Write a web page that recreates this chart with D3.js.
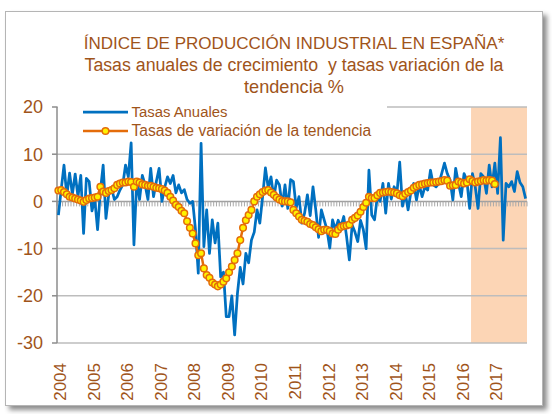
<!DOCTYPE html>
<html><head><meta charset="utf-8">
<script src="https://cdn.jsdelivr.net/npm/d3@7"></script>
<style>
body{margin:0;background:#fff;}
text{font-family:"Liberation Sans",Arial,sans-serif;}
</style>
</head><body>
<svg id="c" width="552" height="414"></svg>
<script>
// ---------------- DATA ----------------
const years = ["2004","2005","2006","2007","2008","2009","2010","2011","2012","2013","2014","2015","2016","2017"];
const yTicks = [20, 10, 0, -10, -20, -30];
const titleLines = ["ÍNDICE DE PRODUCCIÓN INDUSTRIAL EN ESPAÑA*",
                    "Tasas anuales de crecimiento  y tasas variación de la",
                    "tendencia %"];
const legendLabels = ["Tasas Anuales", "Tasas de variación de la tendencia"];
// monthly series, Jan 2004 .. Dec 2017
const tasasAnuales = [
  -2.9, 2.5, 7.7, 1.2, 6.0, 1.5, 5.8, 1.0, 5.5, -6.8, 4.9, 4.2,
  -2.0, 0.5, -6.0, 2.1, 7.7, -3.6, 1.5, 2.8, 0.4, 1.0, 2.4, 3.5,
  7.7, 5.2, 12.4, -9.2, 4.5, 0.4, 5.5, 3.5, 0.4, 7.0, 1.0, 4.2,
  7.0, 0.0, 3.0, 5.2, 3.8, 5.5, 1.8, 3.5, 1.8, 2.5, 0.4, -0.4,
  0.0, -6.0, -15.2, 12.3, -9.6, -1.8, -11.0, -3.9, -8.8, -4.6, -16.0, -15.0,
  -24.4, -24.4, -20.0, -28.3, -19.5, -14.0, -17.5, -11.0, -13.0, -8.2, -6.5, -1.8,
  -4.6, 1.0, 7.1, 2.8, 5.2, 0.7, 4.5, 3.5, -1.0, 3.5, -1.5, 4.6,
  4.2, -1.4, 1.0, -4.6, -2.5, 1.4, -3.0, 3.1, -1.8, -7.6, -1.8, -3.9,
  -6.0, -9.9, -3.9, -6.0, -4.0, -5.3, -3.2, -7.4, -12.4, -5.0, -6.5, -8.5,
  -4.0, -6.0, -10.0, 6.6, -2.9, -3.9, 1.0, 0.0, 3.8, -2.5, 3.8, 0.5,
  3.1, 1.7, 8.3, -1.0, 1.7, -1.8, 2.0, 3.8, 0.3, 3.5, 1.0, 3.1,
  2.4, 6.6, 3.5, 3.1, 3.8, 5.9, 8.1, 5.9, 4.5, 0.3, 7.0, 3.8,
  1.0, 5.9, 4.5, -1.5, 5.9, 3.1, -1.5, 5.9, 5.2, 1.7, 7.7, 3.1,
  8.1, 1.7, 13.5, -8.2, 3.8, 3.1, 4.2, 2.1, 6.3, 4.0, 3.1, 0.6
];
// trend growth, Jan 2004 .. Jan 2017
const tendencia = [
  2.3, 2.4, 2.0, 1.5, 1.0, 0.8, 0.6, 0.4, 0.2, -0.1, 0.3, 0.6,
  0.7, 0.8, 1.0, 3.1, 2.1, 1.8, 2.2, 2.4, 2.8, 3.5, 3.8, 4.0,
  4.0, 4.2, 4.1, 3.1, 4.2, 4.0, 3.6, 3.5, 3.3, 3.3, 3.1, 2.9,
  2.8, 2.6, 2.3, 1.8, 1.0, 0.2, -0.7, -1.2, -2.0, -2.5, -4.2, -5.6,
  -6.8, -8.9, -11.4, -11.0, -14.2, -15.6, -16.2, -17.2, -17.6, -18.0, -17.6, -17.0,
  -16.3, -15.0, -13.8, -12.4, -11.0, -8.2, -5.6, -4.0, -2.9, -1.8, 0.0, 1.0,
  1.5, 2.0, 2.3, 2.4, 1.9, 1.4, 0.8, 0.4, 0.1, 0.0, 0.0, -0.2,
  -1.8, -2.5, -3.2, -3.9, -4.1, -4.3, -4.8, -5.0, -5.5, -5.9, -6.3, -6.0,
  -6.0, -6.3, -6.8, -6.9, -6.0, -5.4, -5.2, -5.1, -4.9, -3.9, -3.5, -3.0,
  -2.2, -1.2, -0.3, 1.0, 0.7, 0.7, 1.3, 1.8, 1.9, 2.0, 2.1, 2.0,
  1.9, 1.7, 1.3, 1.1, 1.6, 2.0, 2.3, 2.9, 3.2, 3.5, 3.6, 3.8,
  3.9, 4.0, 4.0, 4.1, 4.2, 4.3, 4.5, 4.4, 3.3, 3.4, 3.5, 4.2,
  4.0, 3.8, 4.0, 4.7, 4.3, 4.0, 4.2, 4.3, 4.5, 4.4, 4.5, 4.4,
  3.7
];
const shadeFromMonth = 148; // May 2016 onward shaded

// ---------------- DRAW ----------------
const nMonths = tasasAnuales.length;
const svg = d3.select("#c");
const brown = "#A0541A";
const x = d3.scaleLinear().domain([0, nMonths]).range([57, 527]);
const y = d3.scaleLinear().domain([-30, 20]).range([343, 107]);

// fit a text element's font size so its natural width matches a target width
function fitWidth(sel, targets, base) {
  sel.each(function(d, i) {
    const t = d3.select(this).attr("font-size", base);
    const w = this.getComputedTextLength();
    if (w > 0) t.attr("font-size", (base * targets[i] / w).toFixed(2));
  });
}

// frame with shadow
const defs = svg.append("defs");
const f = defs.append("filter").attr("id","sh").attr("x","-5%").attr("y","-5%").attr("width","115%").attr("height","115%");
f.append("feDropShadow").attr("dx",4).attr("dy",4).attr("stdDeviation",2.5).attr("flood-color","#000").attr("flood-opacity",0.45);
svg.append("rect").attr("x",5.5).attr("y",11.5).attr("width",537).attr("height",394)
  .attr("fill","#fff").attr("stroke","#B5B5B5").attr("stroke-width",1).attr("filter","url(#sh)");

// title
const tt = svg.append("g").selectAll("text").data(titleLines).join("text")
  .attr("x",294).attr("y",(d,i)=>49+i*22)
  .attr("text-anchor","middle").attr("fill",brown)
  .style("white-space","pre").text(d=>d);
fitWidth(tt, [421, 419, 100], 20);

// forecast shading
svg.append("rect").attr("x",x(shadeFromMonth)).attr("y",y(20))
  .attr("width",x(nMonths)-x(shadeFromMonth)).attr("height",y(-30)-y(20))
  .attr("fill","#FCD5B5");

// gridlines
svg.append("g").selectAll("line").data(yTicks.filter(t=>t!==0)).join("line")
  .attr("x1",x(0)).attr("x2",x(nMonths)).attr("y1",d=>y(d)).attr("y2",d=>y(d))
  .attr("stroke","#BDBDBD").attr("stroke-width",1.5);

// zero axis with monthly tick marks
svg.append("line").attr("x1",x(0)).attr("x2",x(nMonths)).attr("y1",y(0)).attr("y2",y(0))
  .attr("stroke","#A0A0A0").attr("stroke-width",1.5);
svg.append("g").selectAll("line").data(d3.range(nMonths+1)).join("line")
  .attr("x1",d=>x(d)).attr("x2",d=>x(d)).attr("y1",y(0)).attr("y2",y(0)+5)
  .attr("stroke","#A8A8A8").attr("stroke-width",1);

// y axis
svg.append("line").attr("x1",x(0)).attr("x2",x(0)).attr("y1",y(20)).attr("y2",y(-30))
  .attr("stroke","#8C8C8C").attr("stroke-width",1.5);
svg.append("g").selectAll("line").data(yTicks).join("line")
  .attr("x1",x(0)-5).attr("x2",x(0)).attr("y1",d=>y(d)).attr("y2",d=>y(d))
  .attr("stroke","#8C8C8C").attr("stroke-width",1.5);
svg.append("g").selectAll("text").data(yTicks).join("text")
  .attr("x",43).attr("y",d=>y(d)).attr("dy","0.35em").attr("text-anchor","end")
  .attr("font-size",18).attr("fill",brown).text(d=>d);

// x labels (rotated)
svg.append("g").selectAll("text").data(years).join("text")
  .attr("transform",(d,i)=>`translate(${x(i*12+0.5)+1.6},363) rotate(-90)`)
  .attr("dy","0.35em").attr("text-anchor","end")
  .attr("font-size",17).attr("fill",brown).text(d=>d);

// blue line
svg.append("path").datum(tasasAnuales)
  .attr("d", d3.line().x((d,i)=>x(i+0.5)).y(d=>y(d)))
  .attr("fill","none").attr("stroke","#0070C0").attr("stroke-width",2.75).attr("stroke-linejoin","round");

// trend line + markers
svg.append("path").datum(tendencia)
  .attr("d", d3.line().x((d,i)=>x(i+0.5)).y(d=>y(d)))
  .attr("fill","none").attr("stroke","#E46C0A").attr("stroke-width",2.5);
svg.append("g").selectAll("circle").data(tendencia).join("circle")
  .attr("cx",(d,i)=>x(i+0.5)).attr("cy",d=>y(d)).attr("r",3.3)
  .attr("fill","#FFF200").attr("stroke","#E46C0A").attr("stroke-width",1.5);

// legend
svg.append("rect").attr("x",58).attr("y",100).attr("width",329).attr("height",41).attr("fill","#fff");
const lg = svg.append("g");
lg.append("line").attr("x1",83).attr("x2",128).attr("y1",112).attr("y2",112)
  .attr("stroke","#0070C0").attr("stroke-width",2.75);
lg.append("line").attr("x1",83).attr("x2",128).attr("y1",131).attr("y2",131)
  .attr("stroke","#E46C0A").attr("stroke-width",2.5);
lg.append("circle").attr("cx",105.5).attr("cy",131).attr("r",3.3)
  .attr("fill","#FFF200").attr("stroke","#E46C0A").attr("stroke-width",1.5);
const lt = lg.selectAll("text").data(legendLabels).join("text")
  .attr("x",131.5).attr("y",(d,i)=>112+i*19).attr("dy","0.35em")
  .attr("fill",brown).text(d=>d);
fitWidth(lt, [96, 240], 14);
</script>
</body></html>
